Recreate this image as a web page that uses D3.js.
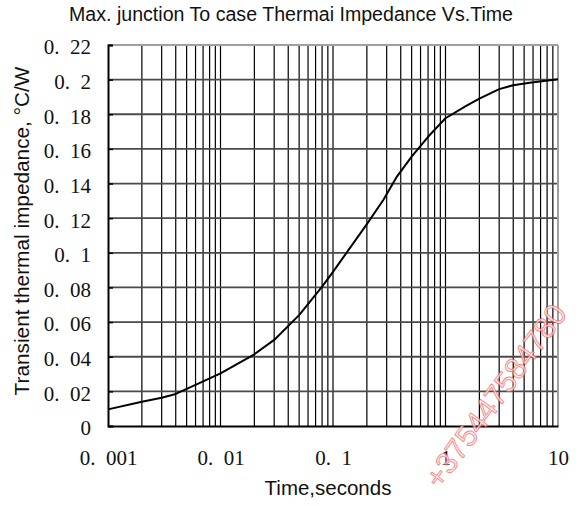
<!DOCTYPE html>
<html>
<head>
<meta charset="utf-8">
<script src="https://cdn.jsdelivr.net/npm/d3@7"></script>
<style>
  body { margin: 0; background: #fff; }
  svg { display: block; }
</style>
</head>
<body>
<div id="chart"></div>
<script>
// curve
const times = [0.001, 0.002, 0.003, 0.004, 0.006, 0.01, 0.02, 0.03, 0.05, 0.08, 0.1, 0.2, 0.28, 0.37, 0.5, 0.7, 1, 1.5, 2, 3, 4, 5.6, 10];
const impedance = [0.0096, 0.014, 0.0163, 0.0185, 0.0237, 0.0304, 0.0414, 0.0497, 0.064, 0.0805, 0.089, 0.1166, 0.1305, 0.144, 0.1555, 0.167, 0.1777, 0.1845, 0.189, 0.1945, 0.1968, 0.1982, 0.2002];

const xTicks = [0.001, 0.01, 0.1, 1, 10];
const xTickLabels = ['0.001', '0.01', '0.1', '1', '10'];
const yTicks = [0, 0.02, 0.04, 0.06, 0.08, 0.1, 0.12, 0.14, 0.16, 0.18, 0.2, 0.22];
const yTickLabels = ['0', '0.02', '0.04', '0.06', '0.08', '0.1', '0.12', '0.14', '0.16', '0.18', '0.2', '0.22'];

const title = 'Max. junction To case Thermai Impedance Vs.Time';
const xTitle = 'Time,seconds';
const yTitle = 'Transient thermal impedance, \u00b0C/W';
const watermark = '+375447584780';

let margin = { top: 45, left: 108, right: 22, bottom: 80 },
    totalW = 580, totalH = 506,
    width = totalW - margin.left - margin.right,
    height = totalH - margin.top - margin.bottom;

// the full-width dot look of the original tick labels
let spaced = s => s.replace('.', '.\u2002');

let svg = d3.select('#chart')
    .append('svg')
    .attr('width', totalW)
    .attr('height', totalH);

let x = d3.scaleLog()
    .domain([0.001, 10])
    .range([margin.left, margin.left + width]);

let y = d3.scaleLinear()
    .domain([0, 0.22])
    .range([margin.top + height, margin.top]);

// vertical grid: every minor step of each decade
let minor = [];
for (let e = -3; e < 1; e++) {
    for (let k = 2; k <= 9; k++) minor.push(k * Math.pow(10, e));
}
let vLines = minor.concat(xTicks.slice(1, -1));

svg.append('g')
    .selectAll('line')
    .data(vLines).enter()
    .append('line')
    .attr('x1', d => x(d)).attr('x2', d => x(d))
    .attr('y1', y(0)).attr('y2', y(0.22))
    .attr('stroke', '#000')
    .attr('stroke-width', 1.2);

// horizontal grid
svg.append('g')
    .selectAll('line')
    .data(yTicks.slice(1, -1)).enter()
    .append('line')
    .attr('x1', x(0.001)).attr('x2', x(10))
    .attr('y1', d => y(d)).attr('y2', d => y(d))
    .attr('stroke', '#4a4a4a')
    .attr('stroke-width', 1.8);

// frame: grey top/right, black left/bottom
svg.append('line')
    .attr('x1', x(0.001)).attr('x2', x(10))
    .attr('y1', y(0.22)).attr('y2', y(0.22))
    .attr('stroke', '#a0a0a0').attr('stroke-width', 2);
svg.append('line')
    .attr('x1', x(10)).attr('x2', x(10))
    .attr('y1', y(0)).attr('y2', y(0.22))
    .attr('stroke', '#a0a0a0').attr('stroke-width', 2);

// axes
let yAxis = d3.axisLeft(y)
    .tickValues(yTicks)
    .tickFormat((d, i) => spaced(yTickLabels[i]))
    .tickSize(-5)
    .tickPadding(17);

let xAxis = d3.axisBottom(x)
    .tickValues(xTicks)
    .tickFormat((d, i) => spaced(xTickLabels[i]))
    .tickSize(0)
    .tickPadding(24);

let gy = svg.append('g')
    .attr('transform', `translate(${x(0.001)},0)`)
    .call(yAxis);
let gx = svg.append('g')
    .attr('transform', `translate(0,${y(0)})`)
    .call(xAxis);

[gx, gy].forEach(g => {
    g.select('.domain').attr('stroke', '#000').attr('stroke-width', 2);
    g.selectAll('.tick line').attr('stroke', '#000').attr('stroke-width', 1.5);
    g.selectAll('.tick text')
        .attr('fill', '#111')
        .attr('font-family', '"Liberation Serif", "DejaVu Serif", serif')
        .attr('font-size', 21)
        .style('white-space', 'pre');
});
gy.selectAll('.tick text').attr('dy', '0.42em');
gx.selectAll('.tick text').attr('dy', '0.71em');

// the curve
let line = d3.line()
    .x((d, i) => x(times[i]))
    .y(d => y(d));

svg.append('path')
    .datum(impedance)
    .attr('fill', 'none')
    .attr('stroke', '#000')
    .attr('stroke-width', 2)
    .attr('stroke-linejoin', 'round')
    .attr('d', line);

// titles
let sans = '"Liberation Sans", Arial, sans-serif';
svg.append('text')
    .attr('x', 291)
    .attr('y', 21)
    .attr('text-anchor', 'middle')
    .attr('font-family', sans)
    .attr('font-size', 19.6)
    .attr('fill', '#111')
    .text(title);

svg.append('text')
    .attr('x', 328)
    .attr('y', 495)
    .attr('text-anchor', 'middle')
    .attr('font-family', sans)
    .attr('font-size', 20.5)
    .attr('fill', '#111')
    .text(xTitle);

svg.append('text')
    .attr('transform', 'translate(29,231) rotate(-90)')
    .attr('text-anchor', 'middle')
    .attr('font-family', sans)
    .attr('font-size', 20.8)
    .attr('fill', '#111')
    .text(yTitle);

// red diagonal watermark over the lower right
svg.append('text')
    .attr('transform', 'translate(440,490) rotate(-54)')
    .attr('font-family', sans)
    .attr('font-size', 30)
    .attr('fill', '#ffe0e0')
    .attr('stroke', '#f05050')
    .attr('stroke-width', 0.7)
    .attr('opacity', 0.8)
    .text(watermark);
</script>
</body>
</html>
